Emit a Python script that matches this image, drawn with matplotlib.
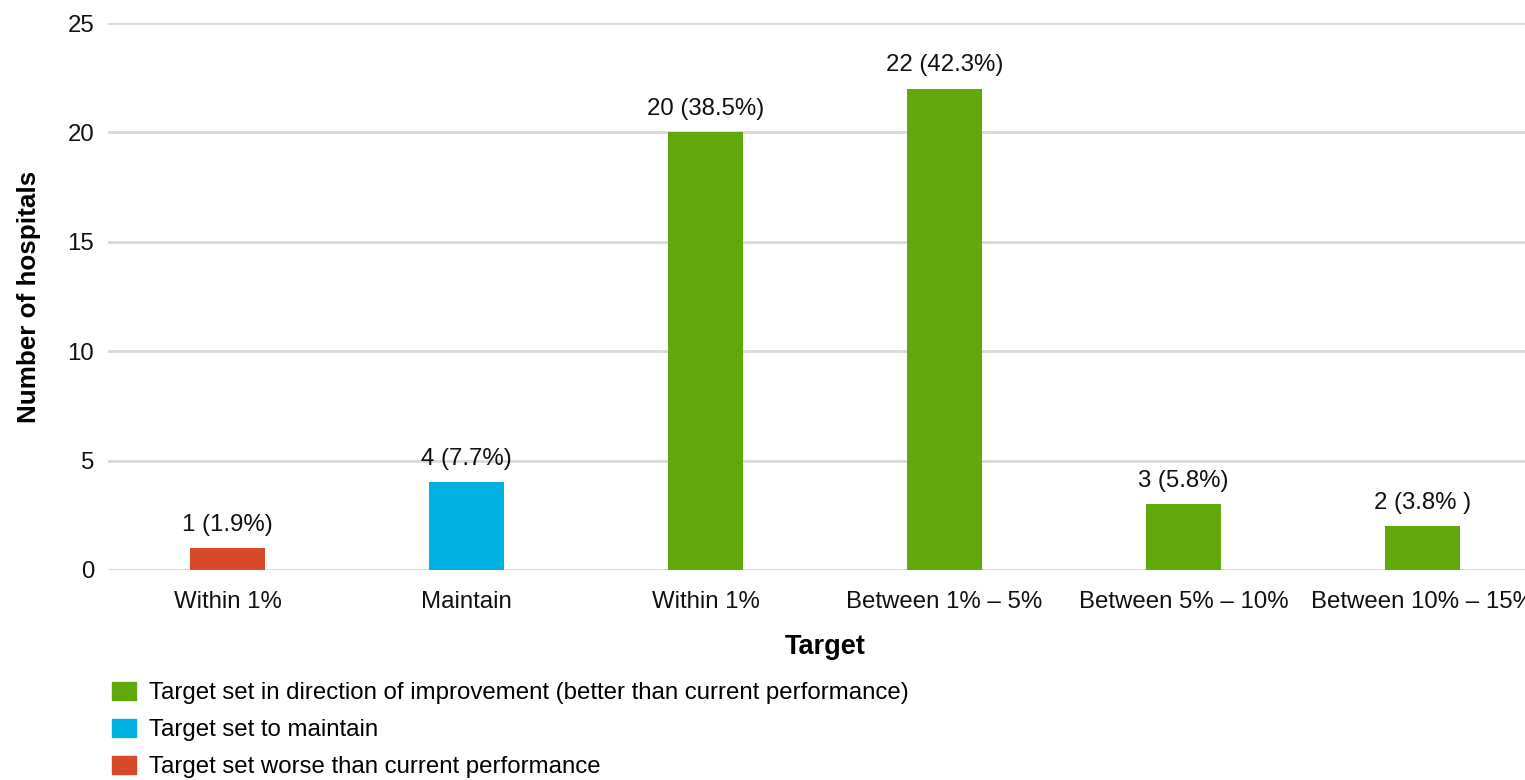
import matplotlib
matplotlib.use("Agg")
from matplotlib import pyplot as plt
from matplotlib.patches import Patch

categories = ["Within 1%", "Maintain", "Within 1%", "Between 1% \u2013 5%",
              "Between 5% \u2013 10%", "Between 10% \u2013 15%"]
counts = [1, 4, 20, 22, 3, 2]
labels = ["1 (1.9%)", "4 (7.7%)", "20 (38.5%)", "22 (42.3%)", "3 (5.8%)", "2 (3.8% )"]
groups = ["worse", "maintain", "better", "better", "better", "better"]

colours = {"better": "#62A70C", "maintain": "#00B1E1", "worse": "#D8482A"}
legend_text = {
    "better": "Target set in direction of improvement (better than current performance)",
    "maintain": "Target set to maintain",
    "worse": "Target set worse than current performance",
}

plt.rcParams["font.family"] = ["Liberation Sans", "DejaVu Sans"]

fig = plt.figure(figsize=(15.25, 7.8), dpi=100)
ax = fig.add_axes([108 / 1525, 210 / 780, 1434 / 1525, 547 / 780])

x = list(range(len(categories)))
ax.bar(x, counts, width=0.314, color=[colours[g] for g in groups], zorder=3)

for xi, c, lab in zip(x, counts, labels):
    ax.annotate(lab, (xi, c), xytext=(0, 9), textcoords="offset points",
                ha="center", va="bottom", fontsize=17.3, color="#111111")

ax.set_xlim(-0.5, len(categories) - 0.5)
ax.set_ylim(0, 25)
ax.set_yticks([0, 5, 10, 15, 20, 25])
ax.set_xticks(x)
ax.set_xticklabels(categories)
ax.tick_params(axis="both", length=0, labelsize=17.3, colors="#111111")
ax.tick_params(axis="x", pad=15)
ax.tick_params(axis="y", pad=10)

ax.grid(axis="y", color="#D9D9D9", linewidth=2, zorder=0)
ax.set_axisbelow(True)
for s in ax.spines.values():
    s.set_visible(False)

ax.set_xlabel("Target", fontsize=19.5, fontweight="bold", labelpad=15)
ax.set_ylabel("Number of hospitals", fontsize=18.7, fontweight="bold", labelpad=19)

handles = [Patch(color=colours[k], label=legend_text[k]) for k in ["better", "maintain", "worse"]]
fig.legend(handles=handles, loc="lower left", bbox_to_anchor=(90 / 1525, -20 / 780),
           frameon=False, fontsize=17.3, handlelength=1.0, handleheight=0.75,
           handletextpad=0.55, labelspacing=0.62)

fig.savefig("out.png", dpi=100)
